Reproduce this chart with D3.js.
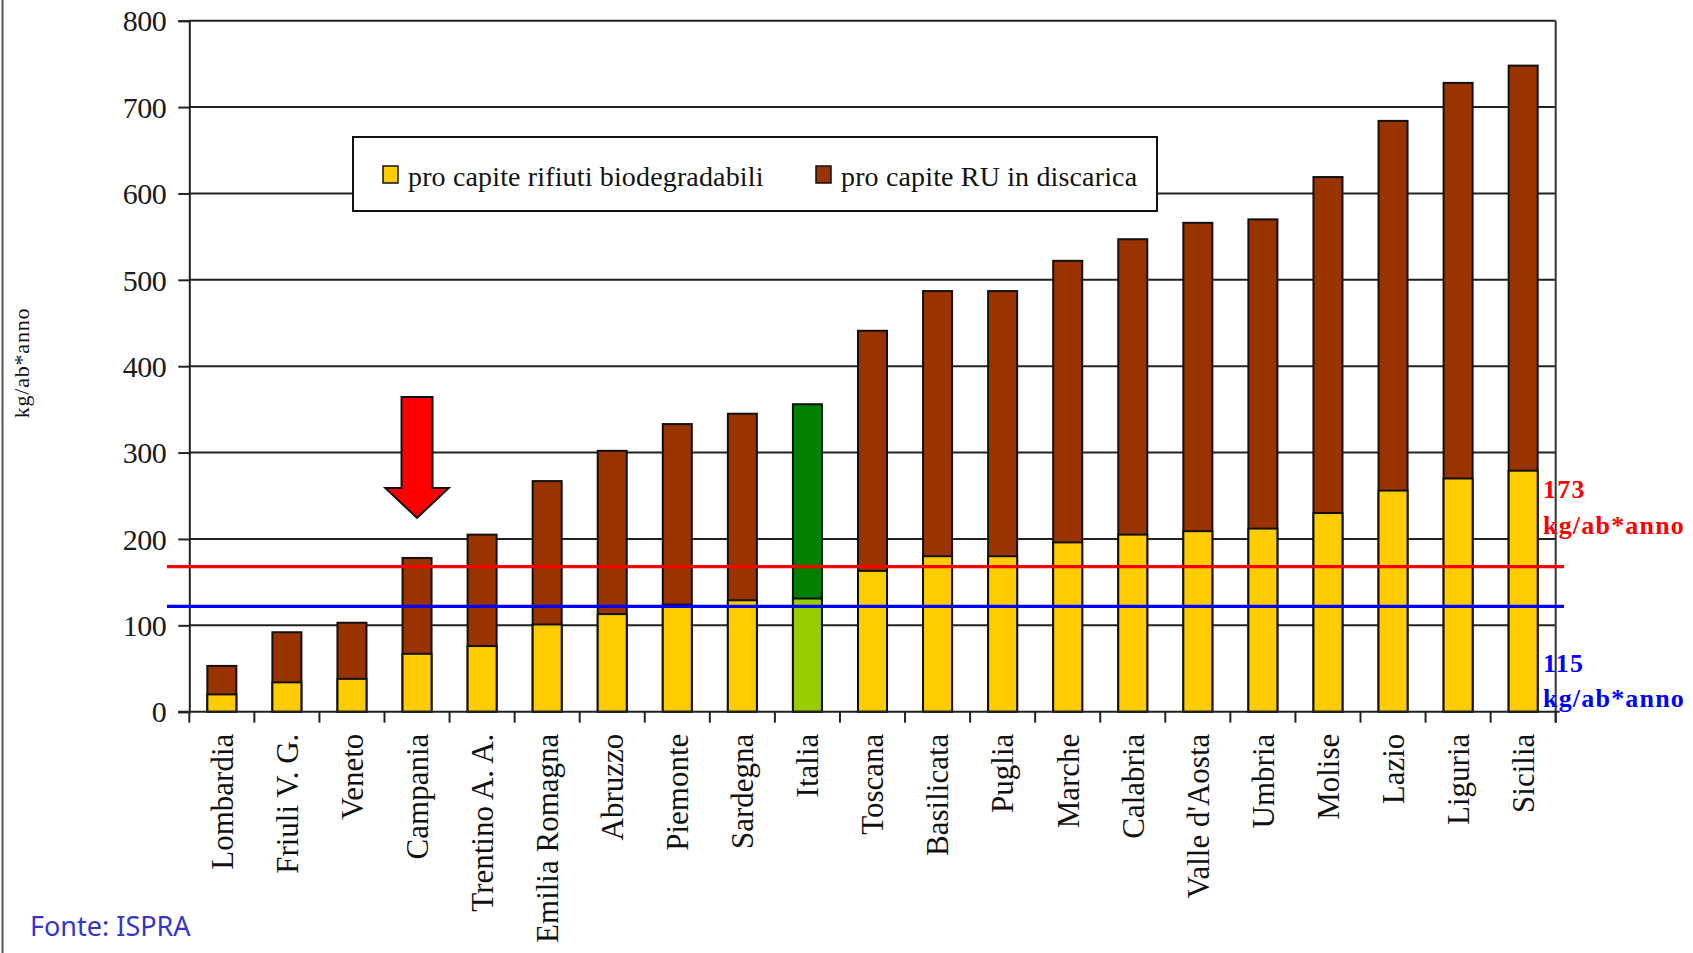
<!DOCTYPE html>
<html><head><meta charset="utf-8">
<script src="https://cdn.jsdelivr.net/npm/d3@7"></script>
<style>body{margin:0;background:#fff} svg{display:block}</style>
</head><body><svg id="c" width="1693" height="953"></svg>
<script>
const categories = ["Lombardia","Friuli V. G.","Veneto","Campania","Trentino A. A.","Emilia Romagna","Abruzzo","Piemonte","Sardegna","Italia","Toscana","Basilicata","Puglia","Marche","Calabria","Valle d'Aosta","Umbria","Molise","Lazio","Liguria","Sicilia"];
const biodegradabili = [20,34,38,67,76,101,113,124,129,131,163,180,180,196,205,209,212,230,256,270,279];
const discarica = [53,92,103,178,205,267,302,333,345,356,441,487,487,522,547,566,570,619,684,728,748];
const yTicks = [0,100,200,300,400,500,600,700,800];
const legendLabels = ["pro capite rifiuti biodegradabili","pro capite RU in discarica"];
const refValues = [168, 122];
const refNumbers = ["173","115"];
const refUnit = "kg/ab*anno";
const yLabel = "kg/ab*anno";
const sourceText = "Fonte: ISPRA";
const highlighted = "Campania";
const national = "Italia";

const svg = d3.select("#c");
const L = 189.3, R = 1555.7, T = 20.7, B = 711.7;
const serif = "'Liberation Serif','Times New Roman',serif";

const x = d3.scaleBand().domain(categories).range([L, R]).paddingInner(0.554).paddingOuter(0.277);
const y = d3.scaleLinear().domain([0, 800]).range([B, T]);

// page left border
svg.append("line").attr("x1",2.5).attr("x2",2.5).attr("y1",0).attr("y2",953).attr("stroke","#555").attr("stroke-width",2);

// gridlines
svg.append("g").selectAll("line").data(yTicks.filter(d=>d>0)).join("line")
  .attr("x1",L).attr("x2",R).attr("y1",d=>y(d)).attr("y2",d=>y(d))
  .attr("stroke","#222").attr("stroke-width",2);
// right border
svg.append("line").attr("x1",R).attr("x2",R).attr("y1",T).attr("y2",B+11).attr("stroke","#333").attr("stroke-width",2);

// y axis
const ya = svg.append("g").attr("transform",`translate(${L},0)`)
  .call(d3.axisLeft(y).tickValues(yTicks).tickSize(11).tickPadding(12));
ya.select(".domain").attr("stroke","#222").attr("stroke-width",2);
ya.selectAll(".tick line").attr("stroke","#222").attr("stroke-width",2);
ya.selectAll(".tick text").attr("font-family",serif).attr("font-size",30).attr("fill","#1a1a1a").attr("dy","0.34em").attr("letter-spacing",-0.5);

// bars
const rows = categories.map((c,i)=>({c, bio: biodegradabili[i], tot: discarica[i]}));
const bw = x.bandwidth();
svg.append("g").selectAll("rect").data(rows).join("rect")
  .attr("x",d=>x(d.c)).attr("width",bw)
  .attr("y",d=>y(d.tot)).attr("height",d=>y(0)-y(d.tot))
  .attr("fill",d=>d.c===national?"#008000":"#993300").attr("stroke","#111").attr("stroke-width",2);
svg.append("g").selectAll("rect").data(rows).join("rect")
  .attr("x",d=>x(d.c)).attr("width",bw)
  .attr("y",d=>y(d.bio)).attr("height",d=>y(0)-y(d.bio))
  .attr("fill",d=>d.c===national?"#99cc00":"#ffcc00").attr("stroke","#111").attr("stroke-width",2);

// x axis
const xa = svg.append("g").attr("transform",`translate(0,${B})`)
  .call(d3.axisBottom(x).tickSize(0).tickPadding(0));
xa.select(".domain").remove();
xa.selectAll(".tick text").attr("font-family",serif).attr("font-size",31).attr("fill","#111")
  .attr("text-anchor","end").attr("transform","translate(0,22) rotate(-90)").attr("dy","0.35em").attr("y",0).attr("x",0);
svg.append("line").attr("x1",L-11).attr("x2",R+4).attr("y1",B).attr("y2",B).attr("stroke","#222").attr("stroke-width",2);
const bounds = d3.range(categories.length+1).map(i=>L + i*x.step());
svg.append("g").selectAll("line").data(bounds).join("line")
  .attr("x1",d=>d).attr("x2",d=>d).attr("y1",B).attr("y2",B+11).attr("stroke","#222").attr("stroke-width",2);

// y label
svg.append("text").attr("transform","translate(29,363) rotate(-90)").attr("text-anchor","middle")
  .attr("font-family",serif).attr("font-size",22).attr("letter-spacing",0.8).attr("fill","#111").text(yLabel);

// legend
const lg = svg.append("g");
lg.append("rect").attr("x",353).attr("y",137).attr("width",804).attr("height",74).attr("fill","#fff").attr("stroke","#111").attr("stroke-width",2);
const legX = [383, 816];
const legFill = ["#ffcc00","#993300"];
legendLabels.forEach((t,i)=>{
  lg.append("rect").attr("x",legX[i]).attr("y",166).attr("width",15).attr("height",17).attr("fill",legFill[i]).attr("stroke","#111").attr("stroke-width",1.5);
  lg.append("text").attr("x",legX[i]+25).attr("y",186).attr("font-family",serif).attr("font-size",28).attr("letter-spacing",0.15).attr("fill","#111").text(t);
});

// reference lines
const refColors = ["#ff0000","#0000ff"];
refValues.forEach((v,i)=>{
  svg.append("line").attr("x1",167).attr("x2",1564).attr("y1",y(v)).attr("y2",y(v)).attr("stroke",refColors[i]).attr("stroke-width",3.2);
});
const refOff = [[-69,-33],[66,101]];
refValues.forEach((v,i)=>{
  const g = svg.append("g").attr("font-family",serif).attr("font-weight","bold").attr("font-size",26).attr("letter-spacing",1.2).attr("fill",refColors[i]);
  g.append("text").attr("x",1543).attr("y",y(v)+refOff[i][0]).text(refNumbers[i]);
  g.append("text").attr("x",1543).attr("y",y(v)+refOff[i][1]).text(refUnit);
});

// arrow over highlighted bar
const cx = x(highlighted) + bw/2;
const tipY = y(discarica[categories.indexOf(highlighted)]) - 40;
const headH = 30, shaftH = 91, sw = 15.5, hw = 31.7;
const arrow = d3.path();
arrow.moveTo(cx-sw, tipY-headH-shaftH);
arrow.lineTo(cx+sw, tipY-headH-shaftH);
arrow.lineTo(cx+sw, tipY-headH);
arrow.lineTo(cx+hw, tipY-headH);
arrow.lineTo(cx, tipY);
arrow.lineTo(cx-hw, tipY-headH);
arrow.lineTo(cx-sw, tipY-headH);
arrow.closePath();
svg.append("path").attr("d",arrow.toString()).attr("fill","#ff0000").attr("stroke","#111").attr("stroke-width",2);

// source
svg.append("text").attr("x",30).attr("y",936).attr("font-family","'Noto Sans',sans-serif").attr("font-size",27).attr("fill","#3535cc").text(sourceText);
</script></body></html>
